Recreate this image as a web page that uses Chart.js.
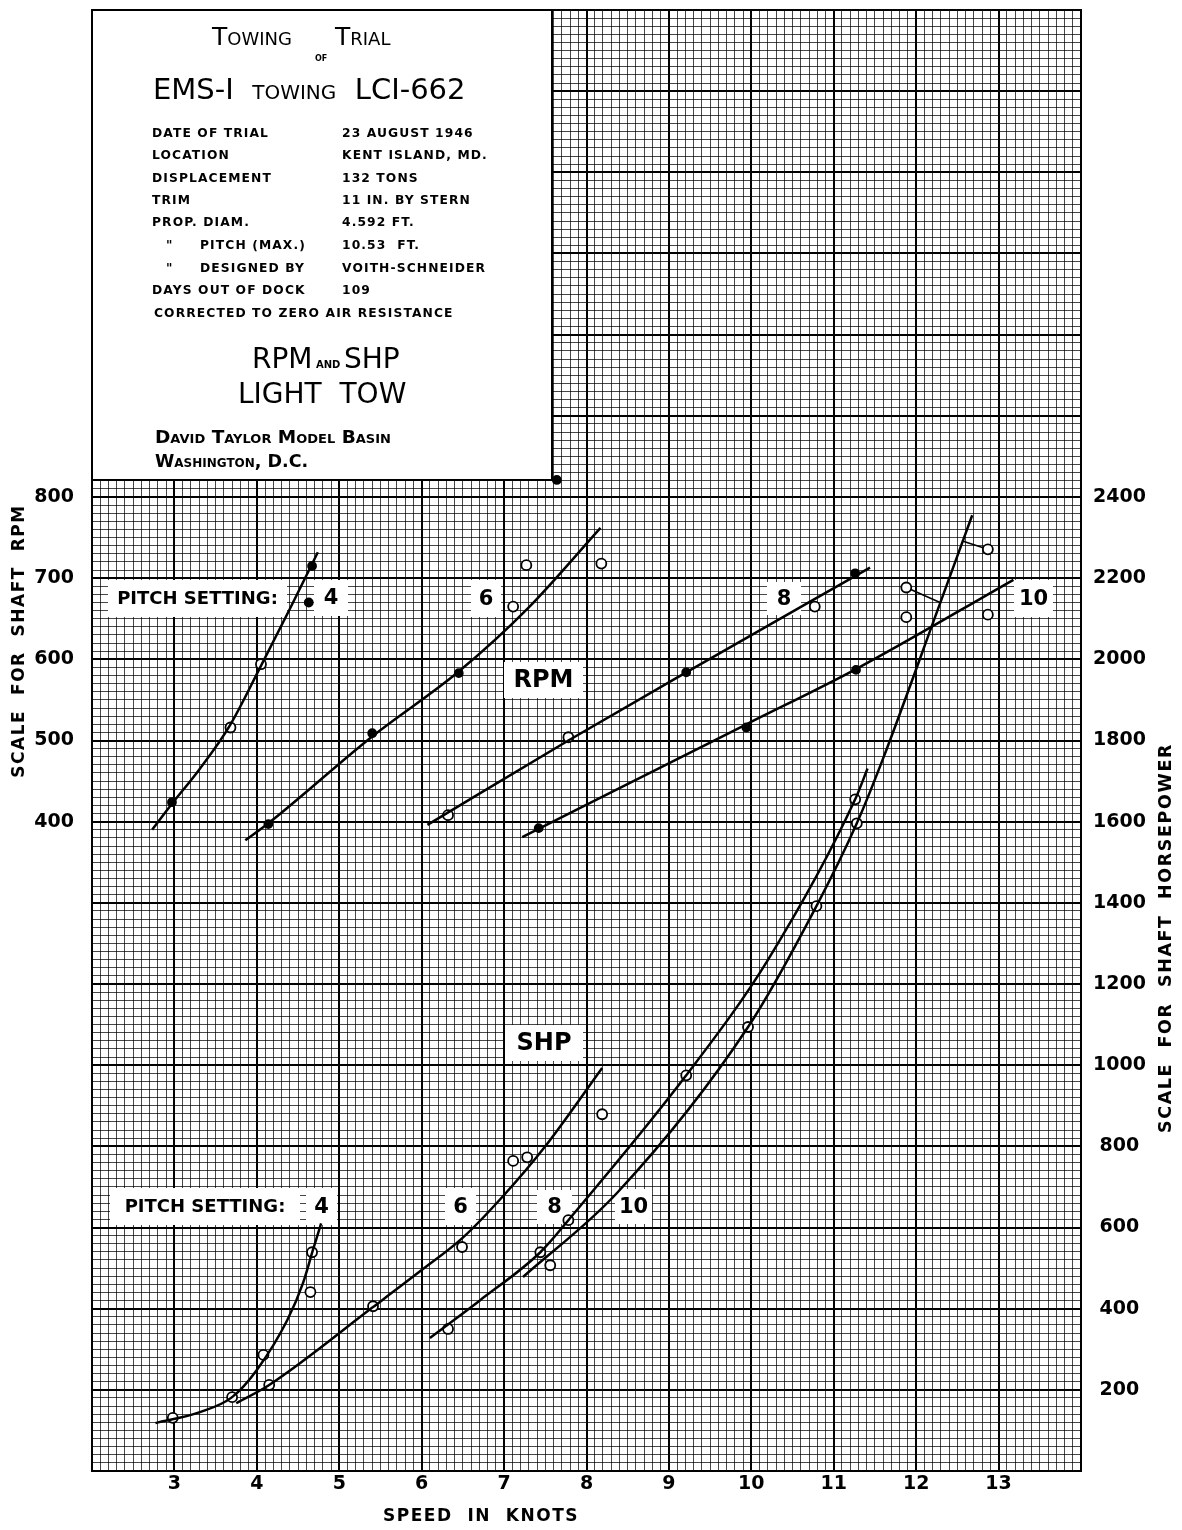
<!DOCTYPE html>
<html>
<head>
<meta charset="utf-8">
<script src="https://cdn.jsdelivr.net/npm/chart.js@4.4.0/dist/chart.umd.min.js"></script>
<style>
  body { margin: 0; background: #fff; }
  #wrap { position: relative; width: 1182px; height: 1530px; }
  #block { position: absolute; left: 0; top: 0; width: 1182px; height: 1530px; pointer-events: none;
           font-family: "DejaVu Sans", sans-serif; color: #000; }
  #block div { position: absolute; white-space: pre; line-height: 1; }
  .info { font-weight: bold; font-size: 12.3px; letter-spacing: 1.1px; }
</style>
</head>
<body>
<div id="wrap">
  <canvas id="chart" width="1182" height="1530"></canvas>
  <div id="block">
    <div style="left:212px;top:24px;font-size:25px;font-variant:small-caps;">Towing</div>
    <div style="left:335px;top:24px;font-size:25px;font-variant:small-caps;">Trial</div>
    <div style="left:315px;top:55px;font-size:8px;font-weight:bold;">OF</div>
    <div style="left:153px;top:75px;font-size:29px;font-variant:small-caps;">EMS-I  towing  LCI-662</div>

    <div class="info" style="left:152px;top:127px;">DATE OF TRIAL</div>
    <div class="info" style="left:342px;top:127px;">23 AUGUST 1946</div>
    <div class="info" style="left:152px;top:149px;">LOCATION</div>
    <div class="info" style="left:342px;top:149px;">KENT ISLAND, MD.</div>
    <div class="info" style="left:152px;top:172px;">DISPLACEMENT</div>
    <div class="info" style="left:342px;top:172px;">132 TONS</div>
    <div class="info" style="left:152px;top:194px;">TRIM</div>
    <div class="info" style="left:342px;top:194px;">11 IN. BY STERN</div>
    <div class="info" style="left:152px;top:216px;">PROP. DIAM.</div>
    <div class="info" style="left:342px;top:216px;">4.592 FT.</div>
    <div class="info" style="left:166px;top:239px;">"</div>
    <div class="info" style="left:200px;top:239px;">PITCH (MAX.)</div>
    <div class="info" style="left:342px;top:239px;">10.53  FT.</div>
    <div class="info" style="left:166px;top:262px;">"</div>
    <div class="info" style="left:200px;top:262px;">DESIGNED BY</div>
    <div class="info" style="left:342px;top:262px;">VOITH-SCHNEIDER</div>
    <div class="info" style="left:152px;top:284px;">DAYS OUT OF DOCK</div>
    <div class="info" style="left:342px;top:284px;">109</div>
    <div class="info" style="left:154px;top:307px;">CORRECTED TO ZERO AIR RESISTANCE</div>

    <div style="left:252px;top:345px;font-size:28px;">RPM<span style="font-size:10px;font-weight:bold;"> AND </span>SHP</div>
    <div style="left:238px;top:380px;font-size:28px;">LIGHT  TOW</div>
    <div style="left:155px;top:428px;font-size:18.5px;font-weight:bold;font-variant:small-caps;">David Taylor Model Basin</div>
    <div style="left:155px;top:453px;font-size:17.5px;font-weight:bold;font-variant:small-caps;">Washington, D.C.</div>
  </div>
</div>
<script>
// axis ranges and tick labels
const speedTicks = [3, 4, 5, 6, 7, 8, 9, 10, 11, 12, 13];
const rpmTicks = [400, 500, 600, 700, 800];
const shpTicks = [200, 400, 600, 800, 1000, 1200, 1400, 1600, 1800, 2000, 2200, 2400];

// faired RPM curves (speed in knots, shaft rpm)
const rpmCurveSpeed4 = [2.73, 2.97, 3.30, 3.67, 4.05, 4.40, 4.74];
const rpmCurve4 = [390, 422, 464, 518, 592, 662, 732];
const rpmCurveSpeed6 = [3.86, 4.14, 5.40, 6.45, 7.30, 8.17];
const rpmCurve6 = [377, 398, 505, 585, 664, 762];
const rpmCurveSpeed8 = [6.07, 7.78, 9.21, 11.44];
const rpmCurve8 = [396, 500, 584, 713];
const rpmCurveSpeed10 = [7.22, 9.94, 11.27, 13.18];
const rpmCurve10 = [381, 520, 588, 698];

// faired SHP curves (speed in knots, shaft horsepower)
const shpCurveSpeed4 = [2.77, 3.31, 3.70, 4.00, 4.37, 4.56, 4.68, 4.78];
const shpCurve4 = [118, 145, 182, 249, 372, 463, 544, 610];
const shpCurveSpeed6 = [3.75, 4.15, 5.41, 6.00, 6.50, 7.00, 7.50, 8.19];
const shpCurve6 = [167, 212, 404, 495, 575, 680, 800, 993];
const shpCurveSpeed8 = [6.10, 6.71, 7.44, 7.78, 9.21, 10.20, 11.26, 11.41];
const shpCurve8 = [328, 421, 539, 618, 975, 1259, 1655, 1731];
const shpCurveSpeed10 = [7.23, 8.37, 9.96, 10.79, 11.28, 11.59, 12.29, 12.68];
const shpCurve10 = [478, 685, 1094, 1392, 1596, 1751, 2138, 2355];

// measured RPM points, f = solid mark, o = open mark
const rpmSpeed4 = [2.97, 3.68, 4.05, 4.63, 4.67];
const rpm4 = [424, 516, 594, 670, 715];
const rpmKind4 = ['f', 'o', 'o', 'f', 'f'];
const rpmSpeed6 = [4.14, 5.40, 6.45, 7.11, 7.27, 8.18, 7.64];
const rpm6 = [397, 509, 583, 665, 716, 718, 821];
const rpmKind6 = ['f', 'f', 'f', 'o', 'o', 'o', 'f'];
const rpmSpeed8 = [6.32, 7.78, 9.21, 10.77, 11.26];
const rpm8 = [408, 504, 584, 665, 706];
const rpmKind8 = ['o', 'o', 'f', 'o', 'f'];
const rpmSpeed10 = [7.42, 9.94, 11.27, 11.88, 12.87];
const rpm10 = [392, 516, 587, 652, 655];
const rpmKind10 = ['f', 'f', 'f', 'o', 'o'];

// measured SHP points
const shpSpeed4 = [2.98, 3.70, 4.08, 4.65, 4.67];
const shp4 = [131, 182, 286, 441, 539];
const shpSpeed6 = [4.15, 5.41, 6.49, 7.11, 7.28, 8.19];
const shp6 = [212, 406, 552, 764, 773, 879];
const shpSpeed8 = [6.32, 7.44, 7.78, 9.21, 11.26];
const shp8 = [350, 539, 618, 975, 1655];
const shpSpeed10 = [7.56, 9.96, 10.79, 11.28, 11.88, 12.87];
const shp10 = [507, 1094, 1392, 1596, 2177, 2271];

// arrows from the two high-speed SHP points to the faired curve
const arrowFrom = [[11.88, 2177], [12.87, 2271]];
const arrowTo = [[12.29, 2140], [12.57, 2291]];

const FONT = '"DejaVu Sans", sans-serif';

function pts(xs, ys) {
    return xs.map((x, i) => ({ x: x, y: ys[i] }));
}

function curve(label, xs, ys, axis) {
    return {
        type: 'line', label: label, data: pts(xs, ys), yAxisID: axis,
        borderColor: '#000', borderWidth: 2.5, pointRadius: 0,
        cubicInterpolationMode: 'monotone', fill: false
    };
}

function marks(label, xs, ys, kinds, axis) {
    const kind = i => (kinds ? kinds[i] : 'o');
    return [{
        type: 'scatter', label: label, data: pts(xs, ys), yAxisID: axis,
        pointRadius: c => kind(c.dataIndex) === 'f' ? 4 : 5,
        pointBackgroundColor: c => kind(c.dataIndex) === 'f' ? '#000' : '#fff',
        pointBorderColor: '#000', pointBorderWidth: 1.8
    }, {
        // centre dot of the open marks
        type: 'scatter', label: label + ' dot', data: pts(xs, ys), yAxisID: axis,
        pointRadius: c => kind(c.dataIndex) === 'f' ? 0 : 1.2,
        pointBackgroundColor: '#000', pointBorderWidth: 0
    }];
}

const datasets = [
    curve('RPM 4', rpmCurveSpeed4, rpmCurve4, 'rpm'),
    curve('RPM 6', rpmCurveSpeed6, rpmCurve6, 'rpm'),
    curve('RPM 8', rpmCurveSpeed8, rpmCurve8, 'rpm'),
    curve('RPM 10', rpmCurveSpeed10, rpmCurve10, 'rpm'),
    curve('SHP 4', shpCurveSpeed4, shpCurve4, 'shp'),
    curve('SHP 6', shpCurveSpeed6, shpCurve6, 'shp'),
    curve('SHP 8', shpCurveSpeed8, shpCurve8, 'shp'),
    curve('SHP 10', shpCurveSpeed10, shpCurve10, 'shp'),
    ...marks('rpm4', rpmSpeed4, rpm4, rpmKind4, 'rpm'),
    ...marks('rpm6', rpmSpeed6, rpm6, rpmKind6, 'rpm'),
    ...marks('rpm8', rpmSpeed8, rpm8, rpmKind8, 'rpm'),
    ...marks('rpm10', rpmSpeed10, rpm10, rpmKind10, 'rpm'),
    ...marks('shp4', shpSpeed4, shp4, null, 'shp'),
    ...marks('shp6', shpSpeed6, shp6, null, 'shp'),
    ...marks('shp8', shpSpeed8, shp8, null, 'shp'),
    ...marks('shp10', shpSpeed10, shp10, null, 'shp')
];
arrowFrom.forEach((p, i) => {
    datasets.push({
        type: 'line', label: 'arrow ' + i, yAxisID: 'shp',
        data: [{ x: p[0], y: p[1] }, { x: arrowTo[i][0], y: arrowTo[i][1] }],
        borderColor: '#000', borderWidth: 1.6, pointRadius: 0
    });
});

// white label boxes over the graph paper (pixel layout)
const boxes = [
    { text: 'PITCH SETTING:', x: 108, y: 580, w: 179, h: 37, size: 18 },
    { text: '4', x: 314, y: 580, w: 34, h: 36, size: 21 },
    { text: '6', x: 471, y: 580, w: 30, h: 37, size: 21 },
    { text: 'RPM', x: 504, y: 662, w: 79, h: 36, size: 24 },
    { text: '8', x: 767, y: 582, w: 34, h: 33, size: 21 },
    { text: '10', x: 1014, y: 580, w: 39, h: 37, size: 21 },
    { text: 'PITCH SETTING:', x: 110, y: 1188, w: 190, h: 37, size: 18 },
    { text: '4', x: 306, y: 1188, w: 31, h: 37, size: 21 },
    { text: '6', x: 445, y: 1188, w: 31, h: 37, size: 21 },
    { text: 'SHP', x: 505, y: 1025, w: 78, h: 36, size: 24 },
    { text: '8', x: 537, y: 1190, w: 35, h: 34, size: 21 },
    { text: '10', x: 615, y: 1189, w: 37, h: 35, size: 21 }
];

const near = (v, list) => list.find(t => Math.abs(t - v) < 1e-6);

function noPad(s) {
    s.paddingTop = 0;
    s.paddingBottom = 0;
    s.paddingLeft = 0;
    s.paddingRight = 0;
}

const paperPlugin = {
    id: 'paper',
    beforeDatasetsDraw(chart) {
        const { ctx, chartArea: a } = chart;
        ctx.save();
        // title block
        ctx.fillStyle = '#fff';
        ctx.fillRect(a.left + 1, a.top + 1, 551 - a.left, 480 - a.top);
        ctx.strokeStyle = '#000';
        ctx.lineWidth = 2;
        ctx.beginPath();
        ctx.moveTo(a.left, 480);
        ctx.lineTo(552, 480);
        ctx.lineTo(552, a.top);
        ctx.stroke();
        // frame
        ctx.strokeRect(a.left, a.top, a.right - a.left, a.bottom - a.top);
        // label boxes
        ctx.textAlign = 'center';
        ctx.textBaseline = 'middle';
        boxes.forEach(b => {
            ctx.fillStyle = '#fff';
            ctx.fillRect(b.x, b.y, b.w, b.h);
            ctx.fillStyle = '#000';
            ctx.font = 'bold ' + b.size + 'px ' + FONT;
            ctx.fillText(b.text, b.x + b.w / 2, b.y + b.h / 2 + 1);
        });
        ctx.restore();
    },
    afterDraw(chart) {
        const ctx = chart.ctx;
        ctx.save();
        ctx.fillStyle = '#000';
        ctx.font = 'bold 17px ' + FONT;
        ctx.letterSpacing = '1.5px';
        ctx.textAlign = 'center';
        ctx.textBaseline = 'middle';
        ctx.fillText('SPEED  IN  KNOTS', 481, 1517);
        ctx.translate(20, 641);
        ctx.rotate(-Math.PI / 2);
        ctx.fillText('SCALE  FOR  SHAFT  RPM', 0, 0);
        ctx.restore();
        ctx.save();
        ctx.fillStyle = '#000';
        ctx.font = 'bold 17.5px ' + FONT;
        ctx.letterSpacing = '1.6px';
        ctx.textAlign = 'center';
        ctx.textBaseline = 'middle';
        ctx.translate(1166, 938);
        ctx.rotate(-Math.PI / 2);
        ctx.fillText('SCALE  FOR  SHAFT  HORSEPOWER', 0, 0);
        ctx.restore();
    }
};

const tickFont = { family: FONT, weight: 'bold', size: 19 };

new Chart(document.getElementById('chart'), {
    data: { datasets: datasets },
    plugins: [paperPlugin],
    options: {
        responsive: false,
        animation: false,
        devicePixelRatio: 1,
        layout: { padding: { top: 10, left: 0, right: 0, bottom: 0 } },
        plugins: { legend: { display: false }, tooltip: { enabled: false } },
        scales: {
            x: {
                type: 'linear', position: 'bottom', min: 2, max: 14,
                ticks: {
                    stepSize: 0.1, autoSkip: false, maxRotation: 0, minRotation: 0,
                    padding: 2, color: '#000', font: tickFont,
                    callback: v => {
                        const r = Math.round(v * 10) / 10;
                        return near(r, speedTicks) !== undefined ? String(r) : '';
                    }
                },
                grid: {
                    drawTicks: false,
                    color: c => Math.abs(c.tick.value - Math.round(c.tick.value)) < 1e-6 ? '#000' : 'rgba(0,0,0,0.72)',
                    lineWidth: c => Math.abs(c.tick.value - Math.round(c.tick.value)) < 1e-6 ? 2 : 1
                },
                border: { display: true, color: '#000', width: 2 },
                afterFit: s => { s.height = 59; noPad(s); }
            },
            rpm: {
                type: 'linear', position: 'left', min: -400, max: 1400,
                ticks: {
                    stepSize: 100, autoSkip: false, padding: 18, color: '#000', font: tickFont,
                    callback: v => near(v, rpmTicks) !== undefined ? String(v) : ''
                },
                grid: { display: false, drawTicks: false },
                border: { display: true, color: '#000', width: 2 },
                afterFit: s => { s.width = 92; noPad(s); }
            },
            shp: {
                type: 'linear', position: 'right', min: 0, max: 3600,
                ticks: {
                    stepSize: 20, autoSkip: false, padding: 12, crossAlign: 'center',
                    color: '#000', font: tickFont,
                    callback: v => {
                        const r = Math.round(v);
                        return near(r, shpTicks) !== undefined ? String(r) : '';
                    }
                },
                grid: {
                    drawTicks: false,
                    color: c => Math.round(c.tick.value) % 200 === 0 ? '#000' : 'rgba(0,0,0,0.72)',
                    lineWidth: c => Math.round(c.tick.value) % 200 === 0 ? 2 : 1
                },
                border: { display: true, color: '#000', width: 2 },
                afterFit: s => { s.width = 101; noPad(s); }
            }
        }
    }
});
</script>
</body>
</html>
